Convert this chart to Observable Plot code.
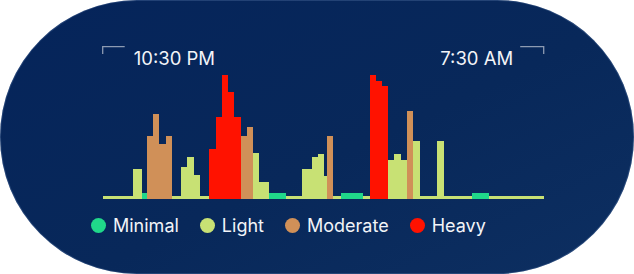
<!DOCTYPE html>
<html><head><meta charset="utf-8">
<script src="https://cdn.jsdelivr.net/npm/d3@7"></script>
<script src="https://cdn.jsdelivr.net/npm/@observablehq/plot@0.6"></script>
<style>
html,body{margin:0;padding:0;background:#fff;}
#card{position:relative;width:634px;height:274px;border-radius:137px;overflow:hidden;
  background:linear-gradient(155deg,#05245a 0%,#08285a 55%,#0d2f61 100%);
  box-shadow:inset 0 0 0 1px rgba(120,150,200,0.25);
  font-family:Inter,"Noto Sans",sans-serif;}
#card > svg{position:absolute;left:0;top:0;}
#legend{position:absolute;left:91px;top:213px;display:flex;align-items:center;
  color:#f2f4f8;font-size:18px;line-height:25px;}
#legend .item{display:flex;align-items:center;margin-right:21px;}
#legend .sw{width:15px;height:15px;border-radius:50%;margin-right:7px;}
</style>
</head><body>
<div id="card"><div id="legend"></div></div>
<script>
// Sleep intensity segments (minutes after 10:30 PM), level, height value
const segStart = [0,36.7,47.8,53.9,61.6,69.3,76.9,84.5,95.9,103.6,111.4,119.1,130.5,138.4,146.1,153.4,161.1,169.0,176.7,184.0,191.7,203.6,224.4,244.4,255.7,263.1,270.8,274.9,282.4,292.4,319.0,326.9,334.3,341.6,349.6,357.3,364.9,372.6,380.3,388.2,409.6,417.6,451.8,473.0];
const segEnd   = [36.7,47.8,53.9,61.6,69.3,76.9,84.5,95.9,103.6,111.4,119.1,130.5,138.4,146.1,153.4,161.1,169.0,176.7,184.0,191.7,203.6,224.4,244.4,255.7,263.1,270.8,274.9,282.4,292.4,319.0,326.9,334.3,341.6,349.6,357.3,364.9,372.6,380.3,388.2,409.6,417.6,451.8,473.0,540];
const segLevel = ["Light","Light","Minimal","Moderate","Moderate","Moderate","Moderate","Light","Light","Light","Light","Light","Heavy","Heavy","Heavy","Heavy","Heavy","Moderate","Moderate","Light","Light","Minimal","Light","Light","Light","Light","Light","Moderate","Light","Minimal","Light","Heavy","Heavy","Heavy","Light","Light","Light","Moderate","Light","Light","Light","Light","Minimal","Light"];
const segValue = [3,29.7,6,62.7,84.7,55,62.7,3,31.7,42.3,23.7,3,50.3,81.7,124.3,107,81.7,62.7,72,45.7,17.3,6,3,29.7,42.3,45.5,23.5,62.7,3,6,3,124,117.7,113,39,45.5,39,87.7,58,3,58,3,6,3];

const levels = ["Minimal","Light","Moderate","Heavy"];
const levelColors = ["#20d88a","#c8e174","#d09058","#ff1200"];
const timeLabels = ["10:30 PM","7:30 AM"];
const timeDomain = [0,540];

const segments = segStart.map((s,i)=>({start:s,end:segEnd[i],level:segLevel[i],value:segValue[i]}));

const chart = Plot.plot({
  width:634, height:274,
  marginTop:51, marginLeft:0, marginRight:0, marginBottom:0,
  style:{background:"transparent", overflow:"visible"},
  x:{domain:timeDomain, range:[102.7,543.7], axis:null},
  y:{domain:[0,125], range:[199,74], axis:null},
  color:{domain:levels, range:levelColors},
  marks:[
    Plot.rect(segments,{x1:"start",x2:"end",y1:0,y2:"value",fill:"level",inset:0,shapeRendering:"crispEdges"}),
    Plot.text([timeLabels[0]],{x:()=>timeDomain[0],text:d=>d,frameAnchor:"top",textAnchor:"start",dx:30.5,fill:"#f2f4f8",fontSize:18.5,fontFamily:"Inter"}),
    Plot.text([timeLabels[1]],{x:()=>timeDomain[1],text:d=>d,frameAnchor:"top",textAnchor:"end",dx:-31,fill:"#f2f4f8",fontSize:18.5,fontFamily:"Inter"})
  ]
});
document.getElementById("card").appendChild(chart);

// brackets next to time labels, positioned with the x scale
const xs = chart.scale("x");
const g = d3.select(chart).append("g").attr("fill","none").attr("stroke","#8d9bb2").attr("stroke-width",1.3);
const x0 = xs.apply(timeDomain[0]), x1 = xs.apply(timeDomain[1]);
g.append("path").attr("d",`M${x0},54V46.7H${x0+22}`);
g.append("path").attr("d",`M${x1},54V46.7H${x1-23.5}`);

// legend
const lg = d3.select("#legend");
levels.forEach((l,i)=>{
  const it = lg.append("div").attr("class","item");
  it.append("div").attr("class","sw").style("background",levelColors[i]);
  it.append("span").text(l);
});
</script>
</body></html>
